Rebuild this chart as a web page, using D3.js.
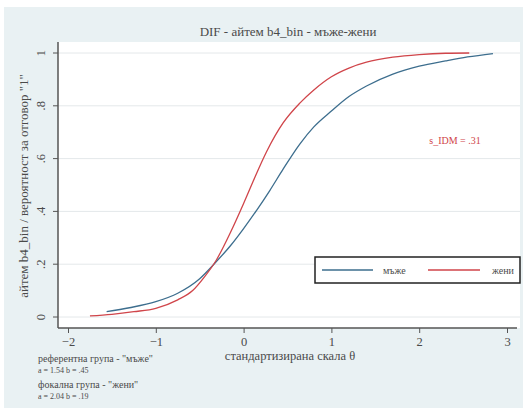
<!DOCTYPE html>
<html>
<head>
<meta charset="utf-8">
<script src="https://cdn.jsdelivr.net/npm/d3@7"></script>
<style>
  html, body { margin: 0; padding: 0; background: #ffffff; }
  svg { display: block; }
  text { font-family: "Liberation Serif", "DejaVu Serif", serif; }
</style>
</head>
<body>
<svg id="chart" width="525" height="412"></svg>
<script>
// Item characteristic curves (probability of answering "1") by group
const titleText = "DIF - айтем b4_bin - мъже-жени";
const xLabel = "стандартизирана скала θ";
const yLabel = "айтем b4_bin / вероятност за отговор \"1\"";
const xTicks = [-2, -1, 0, 1, 2, 3];
const yTicks = [0, 0.2, 0.4, 0.6, 0.8, 1];
const yTickLabels = ["0", ".2", ".4", ".6", ".8", "1"];
const seriesNames = ["мъже", "жени"];

// reference group (men)
const thetaMen = [-1.56, -1.3, -1.0, -0.75, -0.5, -0.31, -0.15, 0, 0.15, 0.3, 0.45, 0.64, 0.8, 1.0, 1.2, 1.4, 1.7, 2.0, 2.3, 2.55, 2.84];
const probMen  = [0.02, 0.035, 0.058, 0.09, 0.145, 0.21, 0.27, 0.335, 0.405, 0.48, 0.56, 0.655, 0.72, 0.78, 0.835, 0.875, 0.92, 0.95, 0.97, 0.985, 0.998];
// focal group (women)
const thetaWomen = [-1.75, -1.5, -1.25, -1.0, -0.75, -0.58, -0.45, -0.31, -0.15, 0, 0.11, 0.26, 0.45, 0.64, 0.8, 1.0, 1.2, 1.4, 1.7, 2.0, 2.3, 2.57];
const probWomen  = [0.004, 0.01, 0.02, 0.033, 0.065, 0.10, 0.15, 0.216, 0.32, 0.43, 0.515, 0.625, 0.735, 0.81, 0.86, 0.91, 0.943, 0.965, 0.984, 0.994, 0.999, 1.0];

const noteLines = [
  "референтна група - \"мъже\"",
  "a = 1.54  b = .45",
  "фокална група - \"жени\"",
  "a = 2.04  b = .19"
];
const statText = "s_IDM = .31";

const colors = ["#3d6e8e", "#d0454a"];
const textColor = "#4a4a4a";

const svg = d3.select("#chart");

// outer graph region
svg.append("rect").attr("x", 4).attr("y", 7).attr("width", 519).attr("height", 401)
  .attr("fill", "#e9f1f3");

const plot = { left: 58, right: 520, top: 42, bottom: 328 };
svg.append("rect").attr("x", plot.left).attr("y", plot.top)
  .attr("width", plot.right - plot.left).attr("height", plot.bottom - plot.top)
  .attr("fill", "#ffffff");

const x = d3.scaleLinear().domain([-2, 3]).range([68, 507]);
const y = d3.scaleLinear().domain([0, 1]).range([317, 53]);

// horizontal grid
svg.append("g").selectAll("line").data(yTicks).join("line")
  .attr("x1", plot.left).attr("x2", plot.right)
  .attr("y1", d => y(d)).attr("y2", d => y(d))
  .attr("stroke", "#e4e8ea").attr("stroke-width", 1);

// axes
const yAxis = svg.append("g").attr("transform", `translate(${plot.left},0)`)
  .call(d3.axisLeft(y).tickValues(yTicks).tickSize(5).tickFormat((d, i) => yTickLabels[i]));
yAxis.select(".domain").attr("d", `M0,${plot.top}V${plot.bottom}`);
yAxis.selectAll("text")
  .attr("transform", d => `translate(-17,${y(d)}) rotate(-90)`)
  .attr("x", 0).attr("y", 0).attr("dy", "0.35em")
  .style("text-anchor", "middle");
yAxis.selectAll(".tick").attr("transform", null);
yAxis.selectAll(".tick line").attr("y1", d => y(d)).attr("y2", d => y(d));

const xAxis = svg.append("g").attr("transform", `translate(0,${plot.bottom})`)
  .call(d3.axisBottom(x).tickValues(xTicks).tickSize(5).tickFormat(d3.format("d")));
xAxis.select(".domain").attr("d", `M${plot.left},0H517`);

[yAxis, xAxis].forEach(a => {
  a.select(".domain").attr("stroke", "#555").attr("stroke-width", 1.5).attr("fill", "none");
  a.selectAll(".tick line").attr("stroke", "#555");
  a.selectAll("text").attr("font-family", "Liberation Serif, serif").attr("font-size", 12.5).attr("fill", textColor);
});
xAxis.selectAll("text").attr("y", 9).attr("dy", "0.71em");

// curves
const line = d3.line().x(d => x(d[0])).y(d => y(d[1])).curve(d3.curveMonotoneX);
const series = [
  d3.zip(thetaMen, probMen),
  d3.zip(thetaWomen, probWomen)
];
svg.append("g").selectAll("path").data(series).join("path")
  .attr("d", line).attr("fill", "none")
  .attr("stroke", (d, i) => colors[i]).attr("stroke-width", 1.3);

// title and axis titles
svg.append("text").attr("x", 288).attr("y", 36).attr("text-anchor", "middle")
  .attr("font-size", 13).attr("fill", textColor).text(titleText);
svg.append("text").attr("x", 290).attr("y", 360).attr("text-anchor", "middle")
  .attr("font-size", 12.5).attr("fill", textColor).text(xLabel);
svg.append("text").attr("transform", "translate(28,186) rotate(-90)")
  .attr("text-anchor", "middle").attr("font-size", 13).attr("fill", textColor).text(yLabel);

// DIF statistic
svg.append("text").attr("x", 455).attr("y", 144).attr("text-anchor", "middle")
  .attr("font-size", 10).attr("fill", "#d0454a").text(statText);

// legend
const lg = svg.append("g");
lg.append("rect").attr("x", 315).attr("y", 257).attr("width", 205).attr("height", 26)
  .attr("fill", "#ffffff").attr("stroke", "#222").attr("stroke-width", 1.5);
const legendItems = [
  { x1: 322, x2: 373, tx: 383 },
  { x1: 428, x2: 480, tx: 492 }
];
legendItems.forEach((it, i) => {
  lg.append("line").attr("x1", it.x1).attr("x2", it.x2).attr("y1", 270).attr("y2", 270)
    .attr("stroke", colors[i]).attr("stroke-width", 1.3);
  lg.append("text").attr("x", it.tx).attr("y", 273.5).attr("font-size", 10)
    .attr("fill", textColor).text(seriesNames[i]);
});

// group notes
const noteY = [362, 373, 388, 399];
const noteSize = [10, 8, 10, 8];
svg.append("g").selectAll("text").data(noteLines).join("text")
  .attr("x", 38).attr("y", (d, i) => noteY[i]).attr("font-size", (d, i) => noteSize[i])
  .attr("fill", textColor).text(d => d);
</script>
</body>
</html>
